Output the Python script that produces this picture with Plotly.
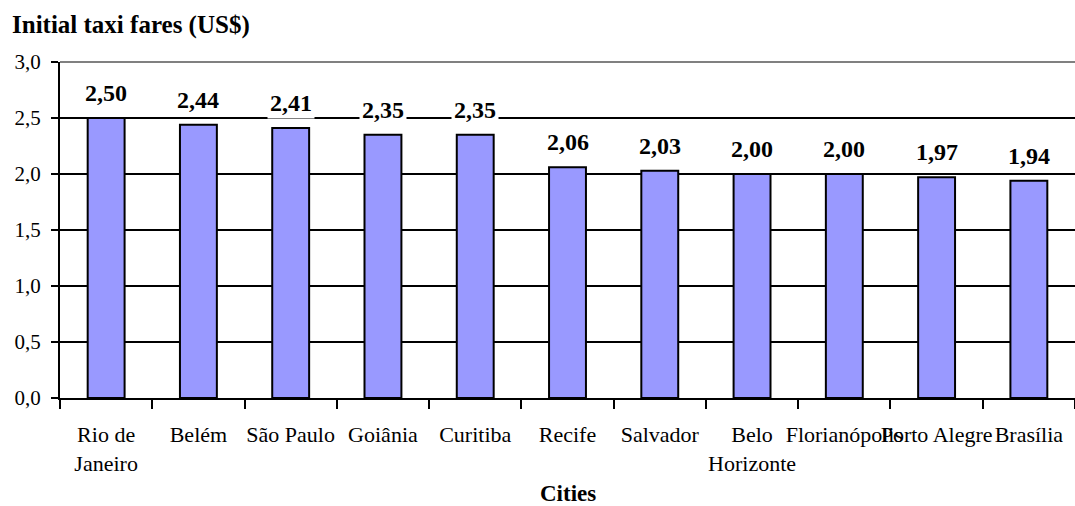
import plotly.graph_objects as go

cities = ["Rio de<br>Janeiro", "Belém", "São Paulo", "Goiânia", "Curitiba", "Recife",
          "Salvador", "Belo<br>Horizonte", "Florianópolis", "Porto Alegre", "Brasília"]
fares = [2.50, 2.44, 2.41, 2.35, 2.35, 2.06, 2.03, 2.00, 2.00, 1.97, 1.94]
y_ticks = [0.0, 0.5, 1.0, 1.5, 2.0, 2.5, 3.0]

FONT = "Liberation Serif, Times New Roman, serif"

fig = go.Figure()
fig.add_trace(go.Bar(
    x=cities, y=fares, width=0.4,
    marker=dict(color="#9999FF", line=dict(color="black", width=2)),
    hoverinfo="skip",
))

for c, v in zip(cities, fares):
    fig.add_annotation(
        x=c, y=v, xref="x", yref="y",
        text="<b>" + f"{v:.2f}".replace(".", ",") + "</b>",
        showarrow=False, yanchor="bottom", yshift=9,
        bgcolor="white", borderpad=2,
        font=dict(family=FONT, size=24, color="black"),
    )

fig.add_annotation(
    x=(10 - 60) / (1075 - 60), xref="paper", y=(398 - 25) / 336, yref="paper",
    text="<b>Initial taxi fares (US$)</b>",
    showarrow=False, xanchor="left", yanchor="middle",
    font=dict(family=FONT, size=25, color="black"),
)
fig.add_annotation(
    x=0.5, xref="paper", y=(398 - 494) / 336, yref="paper", text="<b>Cities</b>",
    showarrow=False, xanchor="center", yanchor="middle",
    font=dict(family=FONT, size=23, color="black"),
)

fig.add_shape(type="line", xref="paper", yref="paper", x0=0, x1=1, y0=1, y1=1,
              line=dict(color="#808080", width=2), layer="above")

fig.update_layout(
    width=1075, height=506,
    margin=dict(l=60, r=0, t=62, b=108),
    plot_bgcolor="white", paper_bgcolor="white",
    separators=",.",
    showlegend=False,
    bargap=0.6,
    font=dict(family=FONT, size=20, color="black"),
    xaxis=dict(
        type="category", tickson="boundaries", ticks="outside", ticklen=9,
        tickwidth=2, tickcolor="black", showline=True, linecolor="black",
        linewidth=2, showgrid=False, tickangle=0, ticklabelstandoff=16,
        tickfont=dict(family=FONT, size=22, color="black"),
    ),
    yaxis=dict(
        range=[0, 3], tickvals=y_ticks, tickformat=".1f", ticks="outside",
        ticklen=7, tickwidth=2, tickcolor="black", showline=True,
        linecolor="black", linewidth=2, showgrid=True, gridcolor="black",
        gridwidth=1.5, zeroline=False, ticklabelstandoff=6,
        tickfont=dict(family=FONT, size=21, color="black"),
    ),
)

fig.write_html("out.html")
